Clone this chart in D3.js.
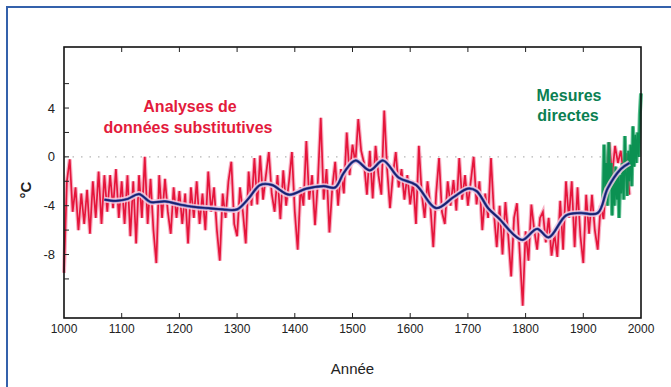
<!DOCTYPE html>
<html>
<head>
<meta charset="utf-8">
<script src="https://cdn.jsdelivr.net/npm/d3@7"></script>
<style>
  body { margin: 0; background: #fff; }
  svg { display: block; font-family: "Liberation Sans", Arial, sans-serif; }
</style>
</head>
<body>
<div id="chart"></div>
<script>
// proxy reconstruction, 5-year steps
const proxyYears = d3.range(1000, 1981, 5);
const proxyTemps = [
  -9.5, -2.0, -0.2, -4.5, -2.5, -6.0, -3.0, -5.5, -2.7, -6.3,
  -2.0, -5.0, -1.2, -5.5, -1.5, -4.5, -1.5, -4.2, -1.0, -5.0,
  -2.0, -5.5, -1.5, -6.5, -2.0, -7.1, -1.5, -5.0, 0.0, -5.5,
  -1.8, -6.0, -8.7, -1.5, -5.0, -1.8, -4.5, -6.3, -2.5, -5.0,
  -2.8, -5.5, -3.0, -7.1, -2.5, -5.0, -2.0, -5.5, -3.0, -6.0,
  -1.2, -4.5, -2.5, -6.0, -8.5, -3.0, -5.0, -2.0, -0.4, -5.5,
  -6.5, -2.5, -4.5, -7.1, -1.2, -4.0, -0.1, -3.9, 0.1, -3.5,
  -1.5, 0.4, -3.0, -4.5, -1.5, -5.1, -1.1, -4.0, -2.0, 0.4,
  -4.5, -7.6, -2.5, -4.0, 1.3, -3.5, -1.5, -5.6, -2.0, 3.2,
  -3.5, -1.0, -6.2, -2.5, -0.4, -4.0, -1.0, -3.0, 2.0, -1.5,
  1.0, -0.5, 3.1, 0.5, -0.5, -3.1, 0.5, -3.4, 0.9, -1.5,
  -3.1, 3.8, -1.0, -4.2, -1.5, 0.4, -2.5, -1.0, -3.5, -1.5,
  -3.9, -2.0, -5.5, 0.9, -3.0, -5.0, -2.0, -4.0, -7.4, -3.0,
  -0.1, -4.5, -5.5, -2.0, -4.0, -1.9, -4.4, -0.1, -3.5, -1.5,
  -4.0, -2.0, 0.0, -3.9, -2.0, -6.0, -3.0, -5.0, -0.1, -4.5,
  -7.4, -4.0, -8.0, -3.7, -6.5, -9.8, -5.0, -3.8, -8.0, -12.2,
  -6.1, -8.5, -3.9, -6.0, -7.6, -5.0, -4.5, -7.0, -5.0, -8.1,
  -6.3, -8.2, -3.6, -7.6, -2.0, -5.0, -2.0, -7.4, -2.5, -6.5,
  -8.7, -3.1, -6.3, -3.1, -6.0, -7.6, -4.0, -5.1, -2.0, 1.2,
  -1.5, 0.9, -0.5, 0.5, -1.5, 0.3, -3.1
];

// smoothed curve
const smoothYears = [1070, 1090, 1110, 1130, 1150, 1175, 1200, 1225, 1250, 1275,
  1300, 1320, 1340, 1360, 1390, 1420, 1450, 1470, 1485, 1505,
  1530, 1553, 1580, 1610, 1645, 1675, 1700, 1715, 1735, 1755,
  1780, 1795, 1820, 1840, 1870, 1895, 1925, 1942, 1965, 1980];
const smoothTemps = [-3.5, -3.6, -3.45, -3.05, -3.7, -3.65, -3.9, -4.1, -4.2, -4.3,
  -4.3, -3.4, -2.3, -2.3, -3.1, -2.6, -2.4, -2.5, -1.3, -0.3,
  -1.1, -0.3, -1.7, -2.3, -4.2, -3.3, -2.6, -2.8, -4.2, -5.1,
  -6.4, -6.8, -5.9, -6.6, -4.8, -4.6, -4.6, -2.6, -1.0, -0.5];

// direct measurements
const directYears = d3.range(1934, 2001, 2);
const directTemps = [-3.5, 1.0, -2.5, -0.5, -4.0, 1.2, -2.5, -0.5, -4.8, -1.5,
  -4.0, -0.8, -3.5, -1.2, -5.0, -1.5, -3.0, -0.5, -3.5, 1.7,
  -1.5, -3.2, 0.5, -2.0, 1.0, -2.4, 2.5, -0.8, 1.8, -0.5,
  2.0, 0.0, 3.5, 5.2];

const xTicks = d3.range(1000, 2001, 100);
const yLabelTicks = [4, 0, -4, -8];
const yMinorTicks = [6, 2, -2, -6, -10];

const W = 671, H = 387;
const margin = { top: 47, right: 30, bottom: 69, left: 64 };
const width = W - margin.left - margin.right;
const height = H - margin.top - margin.bottom;

const svg = d3.select('#chart').append('svg')
  .attr('width', W)
  .attr('height', H);

// outer blue frame
svg.append('rect')
  .attr('x', 7).attr('y', 7)
  .attr('width', 720).attr('height', 420)
  .attr('fill', 'none')
  .attr('stroke', '#3461ab')
  .attr('stroke-width', 2);

const g = svg.append('g')
  .attr('transform', `translate(${margin.left},${margin.top})`);

const x = d3.scaleLinear().domain([1000, 2000]).range([0, width]);
const y = d3.scaleLinear().domain([-13.2, 9]).range([height, 0]);

// zero reference
g.append('line')
  .attr('x1', 0).attr('x2', width)
  .attr('y1', y(0)).attr('y2', y(0))
  .attr('stroke', '#b5b5b5')
  .attr('stroke-width', 1.2)
  .attr('stroke-dasharray', '1.5,7');

const line = d3.line()
  .x(d => x(d[0]))
  .y(d => y(d[1]));

const proxy = proxyYears.map((yr, i) => [yr, proxyTemps[i]]);
const smooth = smoothYears.map((yr, i) => [yr, smoothTemps[i]]);
const direct = directYears.map((yr, i) => [yr, directTemps[i]]);

// proxy series
g.append('path').datum(proxy)
  .attr('d', line)
  .attr('fill', 'none')
  .attr('stroke', '#f27b9b')
  .attr('stroke-width', 4)
  .attr('stroke-opacity', 0.6);
g.append('path').datum(proxy)
  .attr('d', line)
  .attr('fill', 'none')
  .attr('stroke', '#e5153b')
  .attr('stroke-width', 1.7);

// direct measurements
g.append('path').datum(direct)
  .attr('d', line)
  .attr('fill', 'none')
  .attr('stroke', '#1fa466')
  .attr('stroke-width', 4)
  .attr('stroke-opacity', 0.75);
g.append('path').datum(direct)
  .attr('d', line)
  .attr('fill', 'none')
  .attr('stroke', '#0b9152')
  .attr('stroke-width', 1.8);

// smoothed curve with halo
const smoothLine = d3.line()
  .x(d => x(d[0]))
  .y(d => y(d[1]))
  .curve(d3.curveCatmullRom);

g.append('path').datum(smooth)
  .attr('d', smoothLine)
  .attr('fill', 'none')
  .attr('stroke', '#f4cde0')
  .attr('stroke-width', 6)
  .attr('stroke-opacity', 0.85);
g.append('path').datum(smooth)
  .attr('d', smoothLine)
  .attr('fill', 'none')
  .attr('stroke', '#4f6fc4')
  .attr('stroke-width', 2.8);
g.append('path').datum(smooth)
  .attr('d', smoothLine)
  .attr('fill', 'none')
  .attr('stroke', '#1c1f6c')
  .attr('stroke-width', 1.7);

// frame
g.append('rect')
  .attr('width', width).attr('height', height)
  .attr('fill', 'none')
  .attr('stroke', '#111')
  .attr('stroke-width', 1.6);

// ticks, inward
g.selectAll('.xtick-b').data(xTicks.slice(1, -1))
  .enter().append('line')
  .attr('x1', d => x(d)).attr('x2', d => x(d))
  .attr('y1', height).attr('y2', height - 5)
  .attr('stroke', '#222');
g.selectAll('.xtick-t').data(xTicks.slice(1, -1))
  .enter().append('line')
  .attr('x1', d => x(d)).attr('x2', d => x(d))
  .attr('y1', 0).attr('y2', 5)
  .attr('stroke', '#222');
g.selectAll('.ytick').data(yLabelTicks.concat(yMinorTicks))
  .enter().append('line')
  .attr('x1', 0).attr('x2', 5)
  .attr('y1', d => y(d)).attr('y2', d => y(d))
  .attr('stroke', '#222');

// tick labels
g.selectAll('.xlabel').data(xTicks)
  .enter().append('text')
  .attr('x', d => x(d))
  .attr('y', height + 15)
  .attr('text-anchor', 'middle')
  .style('font-size', '12px')
  .style('fill', '#222')
  .text(d => d);

g.selectAll('.ylabel').data(yLabelTicks)
  .enter().append('text')
  .attr('x', -9)
  .attr('y', d => y(d))
  .attr('dy', '0.35em')
  .attr('text-anchor', 'end')
  .style('font-size', '13px')
  .style('fill', '#222')
  .text(d => d);

// axis titles
svg.append('text')
  .attr('x', margin.left + width / 2)
  .attr('y', 374)
  .attr('text-anchor', 'middle')
  .style('font-size', '15px')
  .style('fill', '#222')
  .text('Année');

svg.append('text')
  .attr('transform', 'translate(31,190) rotate(-90)')
  .attr('text-anchor', 'middle')
  .style('font-size', '15px')
  .style('font-weight', 'bold')
  .style('fill', '#222')
  .text('°C');

// annotations
const red = svg.append('text')
  .attr('text-anchor', 'middle')
  .style('font-size', '16px')
  .style('font-weight', 'bold')
  .style('fill', '#e31b3c');
red.append('tspan').attr('x', 190).attr('y', 112).text('Analyses de');
red.append('tspan').attr('x', 188).attr('y', 133).text('données substitutives');

const green = svg.append('text')
  .attr('text-anchor', 'middle')
  .style('font-size', '16px')
  .style('font-weight', 'bold')
  .style('fill', '#0b7f52');
green.append('tspan').attr('x', 569).attr('y', 101).text('Mesures');
green.append('tspan').attr('x', 568).attr('y', 121).text('directes');
</script>
</body>
</html>
